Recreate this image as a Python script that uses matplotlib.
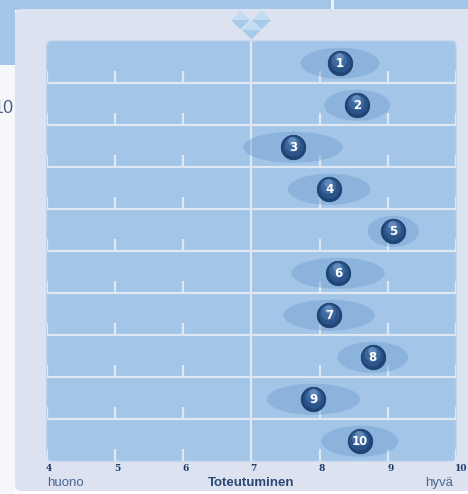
import matplotlib
matplotlib.use("Agg")
import matplotlib.pyplot as plt
from matplotlib.patches import Rectangle, FancyBboxPatch, Ellipse, Polygon
from matplotlib.transforms import offset_copy

# ---- data ----
labels = ["1", "2", "3", "4", "5", "6", "7", "8", "9", "10"]
means = [8.30, 8.55, 7.61, 8.14, 9.08, 8.27, 8.14, 8.78, 7.91, 8.59]
spreads = [1.16, 0.97, 1.46, 1.21, 0.75, 1.37, 1.34, 1.04, 1.37, 1.13]
tick_values = [4, 5, 6, 7, 8, 9, 10]
tick_labels = ["4", "5", "6", "7", "8", "9", "10"]
axis_title = "Toteutuminen"
low_label = "huono"
high_label = "hyvä"

W, H = 468, 494
fig = plt.figure(figsize=(W / 100, H / 100), dpi=100)
fig.patch.set_facecolor("white")

ROW = "#a3c6e8"
PANEL = "#dce2f0"
LINE = "#dfe7f3"

# ---- background decoration (pixel coordinates) ----
bg = fig.add_axes([0, 0, 1, 1])
bg.set_xlim(0, W)
bg.set_ylim(H, 0)
bg.axis("off")
bg.add_patch(Rectangle((0, 65), 15, H - 65, color="#f5f7fb", lw=0))
bg.add_patch(Rectangle((0, 0), W, 10, color=ROW, lw=0))
bg.add_patch(Rectangle((331, 0), 3, 10, color="#eef2f8", lw=0))
bg.add_patch(Rectangle((0, 0), 15, 65, color=ROW, lw=0))
bg.add_patch(FancyBboxPatch((15, 9), 470, 482, boxstyle="round,pad=0,rounding_size=6",
                            fc=PANEL, ec="none"))
bg.add_patch(FancyBboxPatch((46.8, 41), 409.2, 420, boxstyle="round,pad=0,rounding_size=5",
                            fc=ROW, ec="#b7d0ea", lw=0.8))
bg.text(-6, 108, "10", fontsize=13, color="#4b6288", va="center", ha="left",
        family="Liberation Sans")
for cx, cy in [(240.5, 20), (261.5, 20), (251.5, 30)]:
    r = 9.5
    bg.add_patch(Polygon([(cx - r, cy), (cx, cy - r), (cx + r, cy)], closed=True,
                         fc="#c2ddf1", ec="none"))
    bg.add_patch(Polygon([(cx - r, cy), (cx, cy + r), (cx + r, cy)], closed=True,
                         fc="#a8cbea", ec="none"))

# ---- chart axes ----
ax = fig.add_axes([46.8 / W, (H - 461) / H, 409.2 / W, 420 / H])
ax.set_xlim(4, 10)
ax.set_ylim(len(labels), 0)
ax.patch.set_alpha(0)
ax.axis("off")

n = len(labels)
for i in range(1, n):
    ax.axhline(i, color=LINE, lw=1.6, zorder=1)
ax.axvline(7, color=LINE, lw=1.6, zorder=1)
for i in range(n):
    for t in tick_values:
        if t == 7:
            continue
        ax.plot([t, t], [i + 1, i + 1 - 0.28], color=LINE, lw=1.6, zorder=1,
                solid_capstyle="butt")

for i, (m, s) in enumerate(zip(means, spreads)):
    ax.add_patch(Ellipse((m, i + 0.53), width=s, height=0.74, fc="#6f9dcf",
                         alpha=0.45, lw=0, zorder=2))

ys = [i + 0.53 for i in range(n)]
ax.scatter(means, ys, s=310, color="#1f4477", edgecolors="#1a3c6c", linewidths=0.6, zorder=3)
ax.scatter(means, ys, s=215, color="#2b5589",
           transform=offset_copy(ax.transData, fig=fig, x=-0.3, y=0.8, units="points"),
           linewidths=0, zorder=3)
ax.scatter(means, ys, s=120, color="#3d689d",
           transform=offset_copy(ax.transData, fig=fig, x=-0.5, y=2.0, units="points"),
           linewidths=0, zorder=3)
ax.scatter(means, ys, s=38, color="#6b92c2", alpha=0.8,
           transform=offset_copy(ax.transData, fig=fig, x=-0.6, y=4.4, units="points"),
           linewidths=0, zorder=3)
for m, y, lab in zip(means, ys, labels):
    ax.text(m, y, lab, color="white", fontsize=8.5, fontweight="bold",
            ha="center", va="center", zorder=4, family="DejaVu Sans")

# tick labels
for t, lab in zip(tick_values, tick_labels):
    ax.annotate(lab, xy=(t, n), xytext=(-0.5, -2), textcoords="offset points",
                ha="left", va="top", fontsize=6.5, fontweight="bold", color="#1b3766",
                family="DejaVu Serif", annotation_clip=False)

ax.annotate(low_label, xy=(4, n), xytext=(0, -16), textcoords="offset points",
            ha="left", va="center", fontsize=9.5, color="#4a6890",
            family="Liberation Sans", annotation_clip=False)
ax.annotate(axis_title, xy=(7, n), xytext=(0, -16), textcoords="offset points",
            ha="center", va="center", fontsize=9.5, fontweight="bold", color="#2a4775",
            family="Liberation Sans", annotation_clip=False)
ax.annotate(high_label, xy=(10, n), xytext=(-2, -16), textcoords="offset points",
            ha="right", va="center", fontsize=9.5, color="#4a6890",
            family="Liberation Sans", annotation_clip=False)

fig.savefig("out.png", dpi=100)
